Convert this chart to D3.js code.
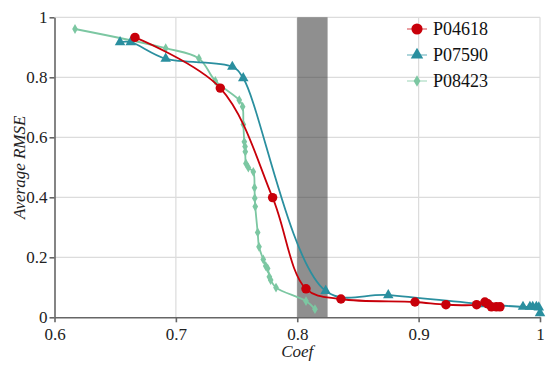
<!DOCTYPE html>
<html>
<head>
<meta charset="utf-8">
<script src="https://cdn.jsdelivr.net/npm/d3@7"></script>
</head>
<body style="margin:0;background:#fff">
<svg id="chart" width="550" height="366" font-family="Liberation Serif" style="font-family:'Liberation Serif'"></svg>
<script>
// data
var seriesNames = ["P04618", "P07590", "P08423"];
var seriesColors = ["#c8000a", "#2a8f9f", "#7cc7a2"];

var p04618 = [
    [0.6663, 0.933], [0.7366, 0.764], [0.7797, 0.399], [0.8072, 0.095],
    [0.836, 0.061], [0.897, 0.051], [0.9225, 0.042], [0.9478, 0.042],
    [0.9546, 0.051], [0.957, 0.045], [0.960, 0.035], [0.964, 0.035], [0.967, 0.035]
];
var p07590 = [
    [0.654, 0.917], [0.6628, 0.917], [0.6916, 0.862], [0.7465, 0.835],
    [0.7555, 0.797], [0.8234, 0.088], [0.875, 0.074], [0.9532, 0.044],
    [0.986, 0.035], [0.9917, 0.035], [0.994, 0.035], [0.997, 0.035],
    [0.999, 0.033], [1.0, 0.014]
];
var p08423 = [
    [0.6169, 0.961], [0.6916, 0.897], [0.719, 0.863], [0.7325, 0.788],
    [0.7522, 0.724], [0.755, 0.702], [0.7556, 0.643], [0.7564, 0.585],
    [0.757, 0.569], [0.7572, 0.552], [0.7577, 0.513], [0.7597, 0.499],
    [0.7638, 0.485], [0.7648, 0.432], [0.765, 0.397], [0.7654, 0.369],
    [0.7674, 0.283], [0.7685, 0.235], [0.772, 0.193], [0.774, 0.171],
    [0.7756, 0.163], [0.777, 0.135], [0.7781, 0.124], [0.7825, 0.099],
    [0.8072, 0.054], [0.8146, 0.027]
];
var band = [0.8, 0.825];
var xTicks = [0.6, 0.7, 0.8, 0.9, 1];
var yTicks = [0, 0.2, 0.4, 0.6, 0.8, 1];

var svg = d3.select("#chart");

function serifText(sel, size) {
    sel.attr("font-family", "Liberation Serif")
        .style("font-family", "'Liberation Serif'")
        .attr("font-size", size);
    return sel;
}

var x = d3.scaleLinear().domain([0.6, 1]).range([54.5, 540]);
var y = d3.scaleLinear().domain([0, 1]).range([317.3, 17.3]);

// grid
svg.append("g")
    .selectAll("line")
    .data(xTicks.slice(1))
    .join("line")
    .attr("x1", d => x(d)).attr("x2", d => x(d))
    .attr("y1", y(0)).attr("y2", y(1))
    .attr("stroke", "#dcdcdc").attr("stroke-width", 1.2);
svg.append("g")
    .selectAll("line")
    .data(yTicks.slice(1))
    .join("line")
    .attr("x1", x(0.6)).attr("x2", x(1))
    .attr("y1", d => y(d)).attr("y2", d => y(d))
    .attr("stroke", "#dcdcdc").attr("stroke-width", 1.2);

// shaded band
svg.append("rect")
    .attr("x", x(band[0]))
    .attr("y", y(1))
    .attr("width", x(band[1]) - x(band[0]))
    .attr("height", y(0) - y(1))
    .attr("fill", "#333")
    .attr("fill-opacity", 0.55);

// axes
var xAxis = svg.append("g")
    .attr("transform", "translate(0," + y(0) + ")")
    .call(d3.axisBottom(x).tickValues(xTicks).tickSize(5).tickSizeOuter(0).tickFormat(d3.format("")));
var yAxis = svg.append("g")
    .attr("transform", "translate(" + x(0.6) + ",0)")
    .call(d3.axisLeft(y).tickValues(yTicks).tickSize(5).tickSizeOuter(0).tickFormat(d3.format("")));
[xAxis, yAxis].forEach(function (g) {
    serifText(g, 17);
    g.select(".domain").attr("stroke", "#666").attr("stroke-width", 1.6);
    g.selectAll(".tick line").attr("stroke", "#666").attr("stroke-width", 1.6);
    serifText(g.selectAll(".tick text"), 17).attr("fill", "#222");
});
xAxis.selectAll(".tick text").attr("dy", "0.85em");
yAxis.selectAll(".tick text").attr("x", -7);

// axis titles
serifText(svg.append("text"), 17)
    .attr("x", x(0.8))
    .attr("y", 357)
    .attr("text-anchor", "middle")
    .attr("font-style", "italic")
    .attr("fill", "#222")
    .text("Coef");
serifText(svg.append("text"), 17)
    .attr("transform", "translate(25," + y(0.5) + ") rotate(-90)")
    .attr("text-anchor", "middle")
    .attr("font-style", "italic")
    .attr("fill", "#222")
    .text("Average RMSE");

// markers
var symbols = [d3.symbolCircle, d3.symbolTriangle, d3.symbolDiamond];
var symbolSizes = [70, 48, 28];

var line = d3.line()
    .x(d => x(d[0]))
    .y(d => y(d[1]))
    .curve(d3.curveCatmullRom.alpha(0.5));

var allSeries = [p04618, p07590, p08423];
// green underneath, red on top
[2, 1, 0].forEach(function (i) {
    var g = svg.append("g");
    g.append("path")
        .datum(allSeries[i])
        .attr("d", line)
        .attr("fill", "none")
        .attr("stroke", seriesColors[i])
        .attr("stroke-width", 1.8);
    g.selectAll("path.pt")
        .data(allSeries[i])
        .join("path")
        .attr("class", "pt")
        .attr("transform", d => "translate(" + x(d[0]) + "," + y(d[1]) + ")")
        .attr("d", d3.symbol().type(symbols[i]).size(symbolSizes[i]))
        .attr("fill", seriesColors[i]);
});

// legend
var legend = svg.append("g").attr("transform", "translate(407,29)");
seriesNames.forEach(function (name, i) {
    var row = legend.append("g").attr("transform", "translate(0," + (i * 26) + ")");
    row.append("line")
        .attr("x1", 0).attr("x2", 20)
        .attr("stroke", seriesColors[i])
        .attr("stroke-opacity", 0.5)
        .attr("stroke-width", 1.5);
    row.append("path")
        .attr("transform", "translate(10,0)")
        .attr("d", d3.symbol().type(symbols[i]).size(symbolSizes[i] * 1.4))
        .attr("fill", seriesColors[i]);
    serifText(row.append("text"), 18)
        .attr("x", 26)
        .attr("y", 0)
        .attr("dy", "0.35em")
        .attr("fill", "#111")
        .text(name);
});
</script>
</body>
</html>
